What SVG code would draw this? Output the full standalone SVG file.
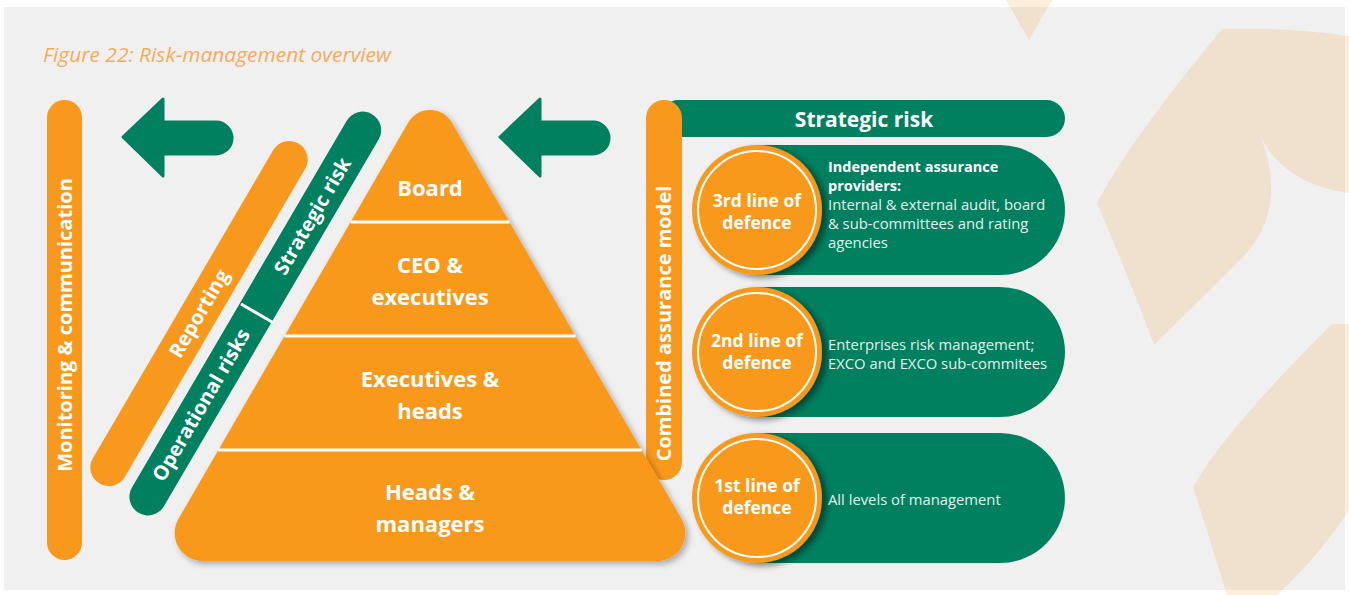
<svg xmlns="http://www.w3.org/2000/svg" width="1349" height="595" viewBox="0 0 1349 595">
<style>
.or{fill:#f8991d}
.gr{fill:#00805f}
.deco{fill:#f29a2e;fill-opacity:0.17}
.wb{font-family:"Open Sans","Liberation Sans",sans-serif;font-weight:bold;fill:#ffffff}
.big{font-size:22px;text-anchor:middle}
.bar{font-size:20px;text-anchor:middle}
.circ{font-size:17.5px;text-anchor:middle}
.pb{font-family:"Open Sans","Liberation Sans",sans-serif;font-weight:bold;font-size:14.5px;fill:#ffffff}
.pr{font-family:"Open Sans","Liberation Sans",sans-serif;font-size:14.8px;fill:#e3f1ea}
.div{stroke:#ffffff;stroke-width:3}
.ring{fill:none;stroke:#ffffff;stroke-width:2}
.arrow{fill:#00805f;stroke:#00805f;stroke-width:3;stroke-linejoin:round}
</style>
<defs>
<filter id="sh" x="-10%" y="-10%" width="130%" height="130%">
<feDropShadow dx="3" dy="3" stdDeviation="3" flood-color="#000" flood-opacity="0.3"/>
</filter>
<filter id="csh" x="-20%" y="-20%" width="150%" height="150%">
<feDropShadow dx="5" dy="3" stdDeviation="3" flood-color="#000" flood-opacity="0.45"/>
</filter>
</defs>
<rect x="0" y="0" width="1349" height="595" fill="#ffffff"/>
<rect x="4" y="7" width="1341" height="583" fill="#f0f0f0"/>
<g id="decoration">
<path class="deco" d="M1006,0 L1052,0 L1029,40 Z"/>
<path class="deco" d="M1222,29 Q1290,27 1349,36 L1349,193 Q1282,183 1260,135 Q1290,210 1240,260 Q1195,305 1154,345 Q1130,280 1097,203 Q1130,140 1222,29 Z"/>
<path class="deco" d="M1332,324 L1349,324 L1349,510 Q1320,555 1277,595 L1227,595 Q1210,540 1193,487 Q1225,430 1332,324 Z"/>
</g>
<text x="43" y="62" font-family="'Open Sans','Liberation Sans',sans-serif" font-style="italic" font-size="20.5" textLength="348" lengthAdjust="spacingAndGlyphs" fill="#f5ab5e">Figure 22: Risk-management overview</text>

<g id="monitoring">
<rect class="or" x="47" y="100" width="35" height="460" rx="17.5"/>
<text class="wb bar" transform="translate(71.5,325) rotate(-90)" x="0" y="0">Monitoring &amp; communication</text>
</g>

<g id="connectors">
<path class="arrow" d="M123,137 L163,99 L163,122 L216,122 A16,16 0 0 1 216,154 L163,154 L163,176 Z"/>
<path class="arrow" d="M500,137 L540,99 L540,122 L593,122 A16,16 0 0 1 593,154 L540,154 L540,176 Z"/>
</g>

<g id="reporting">
<rect class="or" x="-197" y="-18.5" width="394" height="37" rx="18.5" transform="translate(199,313.5) rotate(-59.65)"/>
<text class="wb bar" transform="translate(199,313.5) rotate(-59.65)" x="0" y="7">Reporting</text>
</g>

<g id="risks">
<rect class="gr" x="-231" y="-18.5" width="462" height="37" rx="18.5" transform="translate(255.3,313.5) rotate(-59.65)"/>
<line class="div" x1="241" y1="304" x2="272" y2="322"/>
<text class="wb bar" transform="translate(312.4,216) rotate(-59.65)" x="0" y="7">Strategic risk</text>
<text class="wb bar" transform="translate(201.2,405) rotate(-59.65)" x="0" y="7">Operational risks</text>
</g>

<g id="strategic-risk-bar">
<rect class="gr" x="660" y="100" width="405" height="37" rx="18.5"/>
<text class="wb" x="864" y="127" font-size="21" text-anchor="middle">Strategic risk</text>
</g>

<g id="combined-assurance">
<rect class="or" x="646" y="100" width="36" height="380" rx="18"/>
<text class="wb bar" transform="translate(671,323.5) rotate(-90)" x="0" y="0">Combined assurance model</text>
</g>

<g id="pyramid">
<path class="or" filter="url(#sh)" d="M408.4,122.3 A25,25 0 0 1 451.6,122.3 L681.6,519 A28,28 0 0 1 657.4,561 L202.6,561 A28,28 0 0 1 178.4,519 Z"/>
<line class="div" x1="350.5" y1="222" x2="509.5" y2="222"/>
<line class="div" x1="284.4" y1="336" x2="575.6" y2="336"/>
<line class="div" x1="218.3" y1="450" x2="641.7" y2="450"/>
<text class="wb big" x="430" y="196">Board</text>
<text class="wb big" x="430" y="273">CEO &amp;</text>
<text class="wb big" x="430" y="305">executives</text>
<text class="wb big" x="430" y="387">Executives &amp;</text>
<text class="wb big" x="430" y="419">heads</text>
<text class="wb big" x="430" y="500">Heads &amp;</text>
<text class="wb big" x="430" y="532">managers</text>
</g>

<g id="line3">
<path class="gr" d="M757,145 H1000 A65,65 0 0 1 1000,275 H757 Z"/>
<circle class="or" cx="757" cy="210" r="65" filter="url(#csh)"/>
<circle class="ring" cx="757" cy="210" r="59"/>
<text class="wb circ" x="757" y="207">3rd line of</text>
<text class="wb circ" x="757" y="229">defence</text>
<text class="pb" x="828" y="172">Independent assurance</text>
<text class="pb" x="828" y="191">providers:</text>
<text class="pr" x="828" y="210">Internal &amp; external audit, board</text>
<text class="pr" x="828" y="229">&amp; sub-committees and rating</text>
<text class="pr" x="828" y="248">agencies</text>
</g>

<g id="line2">
<path class="gr" d="M757,287 H1000 A65,65 0 0 1 1000,417 H757 Z"/>
<circle class="or" cx="757" cy="352" r="65" filter="url(#csh)"/>
<circle class="ring" cx="757" cy="352" r="59"/>
<text class="wb circ" x="757" y="347">2nd line of</text>
<text class="wb circ" x="757" y="369">defence</text>
<text class="pr" x="828" y="350">Enterprises risk management;</text>
<text class="pr" x="828" y="369">EXCO and EXCO sub-commitees</text>
</g>

<g id="line1">
<path class="gr" d="M757,433 H1000 A65,65 0 0 1 1000,563 H757 Z"/>
<circle class="or" cx="757" cy="498" r="65" filter="url(#csh)"/>
<circle class="ring" cx="757" cy="498" r="59"/>
<text class="wb circ" x="757" y="492">1st line of</text>
<text class="wb circ" x="757" y="514">defence</text>
<text class="pr" x="828" y="505">All levels of management</text>
</g>
</svg>
